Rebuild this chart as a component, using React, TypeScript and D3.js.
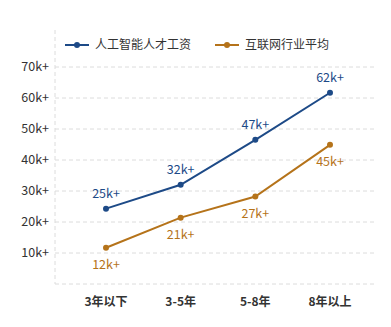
import React from "react";
import * as d3 from "d3";

const categories = ["3年以下", "3-5年", "5-8年", "8年以上"];
const aiSalary = [24.3, 32.0, 46.5, 61.7];
const aiLabels = ["25k+", "32k+", "47k+", "62k+"];
const avgSalary = [11.7, 21.4, 28.2, 44.9];
const avgLabels = ["12k+", "21k+", "27k+", "45k+"];
const yTicks = [10, 20, 30, 40, 50, 60, 70];
const seriesNames = ["人工智能人才工资", "互联网行业平均"];

const W = 391, H = 327;
const left = 55, right = 376, top = 30, bottom = 284;
const BLUE = "#1d4a87";
const ORANGE = "#b5731a";
const FONT = "'Noto Sans CJK SC', 'Noto Sans', sans-serif";

export default function App() {
  const x = d3.scalePoint<string>().domain(categories).range([106, 330]).padding(0);
  const y = d3.scaleLinear().domain([0, 10]).range([bottom, bottom - 31]);
  const line = d3.line<number>().x((_, i) => x(categories[i])!).y((d) => y(d));

  const series = [
    { vals: aiSalary, labels: aiLabels, color: BLUE, dy: -11 },
    { vals: avgSalary, labels: avgLabels, color: ORANGE, dy: 21 },
  ];

  return (
    <svg width={W} height={H} style={{ position: "absolute", left: 0, top: 0, fontFamily: FONT }}>
      <rect width={W} height={H} fill="#fff" />
      {yTicks.map((t) => (
        <g key={t}>
          <line x1={left} x2={right} y1={y(t)} y2={y(t)} stroke="#dcdcdc" strokeDasharray="4,3" />
          <text x={49} y={y(t)} dy="0.35em" textAnchor="end" fontSize={12.5} fill="#333">{t}k+</text>
        </g>
      ))}
      <line x1={left} x2={right} y1={bottom} y2={bottom} stroke="#dcdcdc" strokeDasharray="4,3" />
      <line x1={left} x2={left} y1={top} y2={bottom} stroke="#dcdcdc" strokeDasharray="4,3" />
      {categories.map((c) => (
        <text key={c} x={x(c)} y={302} dy="0.35em" textAnchor="middle" fontSize={12} fontWeight="bold" fill="#333">{c}</text>
      ))}
      {series.map((s, si) => (
        <g key={si}>
          <path d={line(s.vals)!} fill="none" stroke={s.color} strokeWidth={2} />
          {s.vals.map((v, i) => (
            <g key={i}>
              <circle cx={x(categories[i])} cy={y(v)} r={3} fill={s.color} />
              <text x={x(categories[i])} y={y(v) + s.dy} textAnchor="middle" fontSize={12.5} fill={s.color}>{s.labels[i]}</text>
            </g>
          ))}
        </g>
      ))}
      {[{ x0: 65, c: BLUE }, { x0: 215, c: ORANGE }].map((l, i) => (
        <g key={i}>
          <line x1={l.x0} x2={l.x0 + 24} y1={45} y2={45} stroke={l.c} strokeWidth={2} />
          <circle cx={l.x0 + 12} cy={45} r={3} fill={l.c} />
          <text x={l.x0 + 30} y={45} dy="0.35em" fontSize={12} fill="#333">{seriesNames[i]}</text>
        </g>
      ))}
    </svg>
  );
}
